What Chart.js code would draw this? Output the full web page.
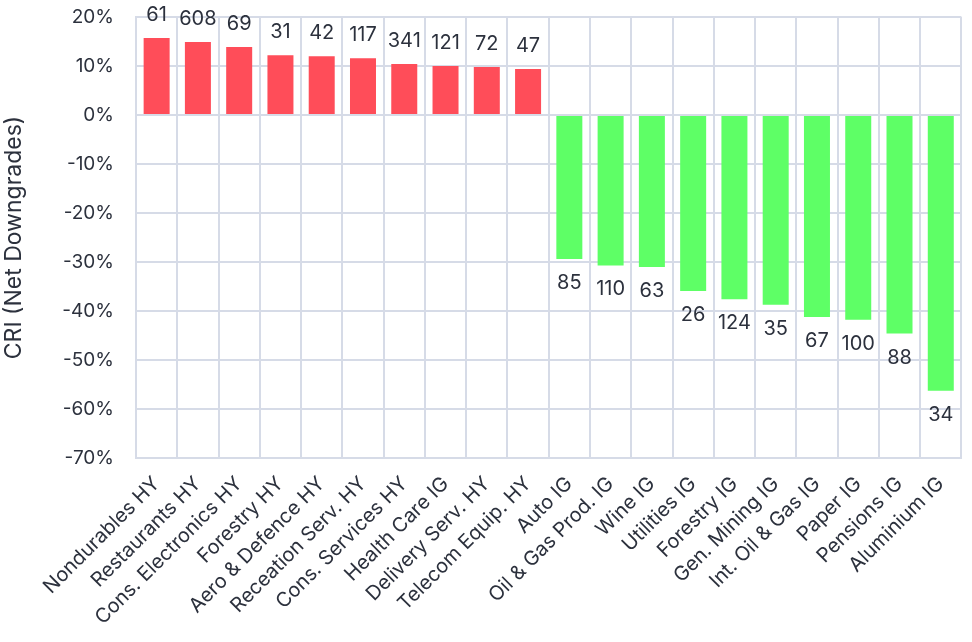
<!DOCTYPE html>
<html>
<head>
<meta charset="utf-8">
<script src="https://cdn.jsdelivr.net/npm/chart.js@4/dist/chart.umd.min.js"></script>
<style>
  html, body { margin: 0; padding: 0; background: #fff; }
  #wrap { width: 972px; height: 642px; }
</style>
</head>
<body>
<div id="wrap"><canvas id="chart"></canvas></div>
<script>
// sector names along the x axis
var categories = [
  "Nondurables HY", "Restaurants HY", "Cons. Electronics HY", "Forestry HY",
  "Aero & Defence HY", "Receation Serv. HY", "Cons. Services HY", "Health Care IG",
  "Delivery Serv. HY", "Telecom Equip. HY", "Auto IG", "Oil & Gas Prod. IG",
  "Wine IG", "Utilities IG", "Forestry IG", "Gen. Mining IG", "Int. Oil & Gas IG",
  "Paper IG", "Pensions IG", "Aluminium IG"
];
// CRI in percent
var cri = [
  15.7, 14.9, 13.9, 12.2, 12.0, 11.6, 10.4, 10.0, 9.8, 9.4,
  -29.4, -30.7, -31.0, -35.9, -37.6, -38.7, -41.2, -41.8, -44.6, -56.3
];
// issuer counts shown next to each bar
var counts = [
  61, 608, 69, 31, 42, 117, 341, 121, 72, 47,
  85, 110, 63, 26, 124, 35, 67, 100, 88, 34
];
var yTicks = [20, 10, 0, -10, -20, -30, -40, -50, -60, -70];

var FONT = "Inter, 'Noto Sans', sans-serif";
var TEXT = "#2c313d";
var GRID = "#d6dbe7";

// draws the count next to the end of every bar
var countLabels = {
  id: "countLabels",
  afterDatasetsDraw: function(chart) {
    var ctx = chart.ctx;
    var meta = chart.getDatasetMeta(0);
    ctx.save();
    ctx.font = "20px " + FONT;
    ctx.fillStyle = TEXT;
    ctx.textAlign = "center";
    ctx.textBaseline = "middle";
    meta.data.forEach(function(bar, i) {
      var off = cri[i] >= 0 ? -23 : 24;
      ctx.fillText(String(counts[i]), bar.x, bar.y + off);
    });
    ctx.restore();
  }
};

new Chart(document.getElementById("chart"), {
  type: "bar",
  data: {
    labels: categories,
    datasets: [{
      data: cri,
      backgroundColor: cri.map(function(v) { return v >= 0 ? "#ff4d59" : "#5eff66"; }),
      borderWidth: 0,
      barPercentage: 0.63,
      categoryPercentage: 1.0
    }]
  },
  options: {
    responsive: true,
    maintainAspectRatio: false,
    animation: false,
    layout: { padding: { top: 17, right: 10, left: 0, bottom: 0 } },
    plugins: {
      legend: { display: false },
      tooltip: { enabled: false }
    },
    scales: {
      x: {
        afterFit: function(scale) { scale.height = 184; },
        grid: { color: GRID, lineWidth: 2, offset: true, drawTicks: false },
        border: { color: GRID, width: 2 },
        ticks: {
          color: TEXT,
          font: { family: FONT, size: 20 },
          minRotation: 45,
          maxRotation: 45,
          autoSkip: false,
          padding: 14
        }
      },
      y: {
        min: -70,
        max: 20,
        afterBuildTicks: function(scale) {
          scale.ticks = yTicks.map(function(v) { return { value: v }; });
        },
        afterFit: function(scale) {
          scale.width = 136;
          scale.paddingTop = 0;
          scale.paddingBottom = 0;
        },
        grid: { color: GRID, lineWidth: 2, drawTicks: false },
        border: { color: GRID, width: 2 },
        ticks: {
          color: TEXT,
          font: { family: FONT, size: 19 },
          padding: 22,
          callback: function(v) { return v + "%"; }
        },
        title: {
          display: true,
          text: "CRI (Net Downgrades)",
          color: TEXT,
          font: { family: FONT, size: 23 },
          padding: { top: 0, bottom: 0 }
        }
      }
    }
  },
  plugins: [countLabels]
});
</script>
</body>
</html>
